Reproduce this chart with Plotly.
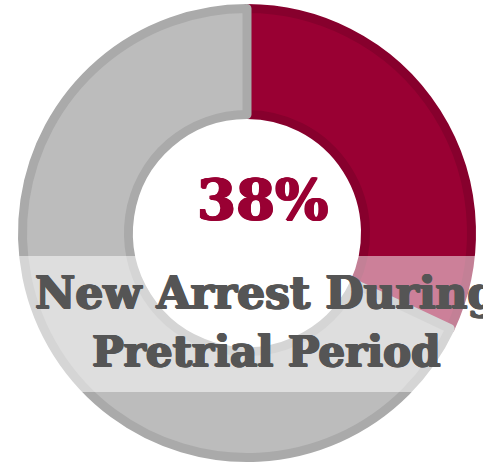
import plotly.graph_objects as go

# Data
slice_labels = ["New arrest", "No new arrest"]
slice_values = [32, 68]          # visible slice proportion
center_label = "38%"
band_lines = ["New Arrest During", "Pretrial Period"]

# Styles
fill_colors = ["#990033", "#bcbcbc"]
line_colors = ["#87002d", "#aaaaaa"]
W, H = 483, 466

def px_x(x):
    return x / W

def px_y(y):
    return (H - y) / H

cx, cy, r_path = 247, 233, 224.5

fig = go.Figure()
fig.add_trace(go.Pie(
    labels=slice_labels,
    values=slice_values,
    sort=False,
    direction="clockwise",
    rotation=0,
    hole=0.528,
    marker=dict(colors=fill_colors, line=dict(color=line_colors, width=9)),
    textinfo="none",
    hoverinfo="skip",
    showlegend=False,
    domain=dict(x=[px_x(cx - r_path), px_x(cx + r_path)],
                y=[px_y(cy + r_path), px_y(cy - r_path)]),
))

# Semi-transparent white band
fig.add_shape(type="rect", xref="paper", yref="paper",
              x0=0, x1=1, y0=px_y(392), y1=px_y(256),
              fillcolor="rgba(255,255,255,0.5)", line=dict(width=0),
              layer="above")


def heavy(c):
    return (f"1px 0px 0px {c}, -1px 0px 0px {c}, 0px 1px 0px {c}, "
            f"0px -0.5px 0px {c}, 1px 1px 0px {c}")


fig.add_annotation(text=f"<b>{center_label}</b>", xref="paper", yref="paper",
                   x=px_x(262), y=px_y(199), xanchor="center", yanchor="middle",
                   showarrow=False,
                   font=dict(family="DejaVu Serif", size=56, color="#990033",
                             shadow=heavy("#990033")))

for line, yc, sz in zip(band_lines, [293, 351], [44, 42]):
    fig.add_annotation(text=f"<b>{line}</b>", xref="paper", yref="paper",
                       x=px_x(266), y=px_y(yc), xanchor="center", yanchor="middle",
                       showarrow=False,
                       font=dict(family="DejaVu Serif", size=sz, color="#555555",
                                 shadow=heavy("#555555")))

fig.update_layout(width=W, height=H, margin=dict(l=0, r=0, t=0, b=0),
                  paper_bgcolor="white", plot_bgcolor="white")

fig.write_html("out.html")
